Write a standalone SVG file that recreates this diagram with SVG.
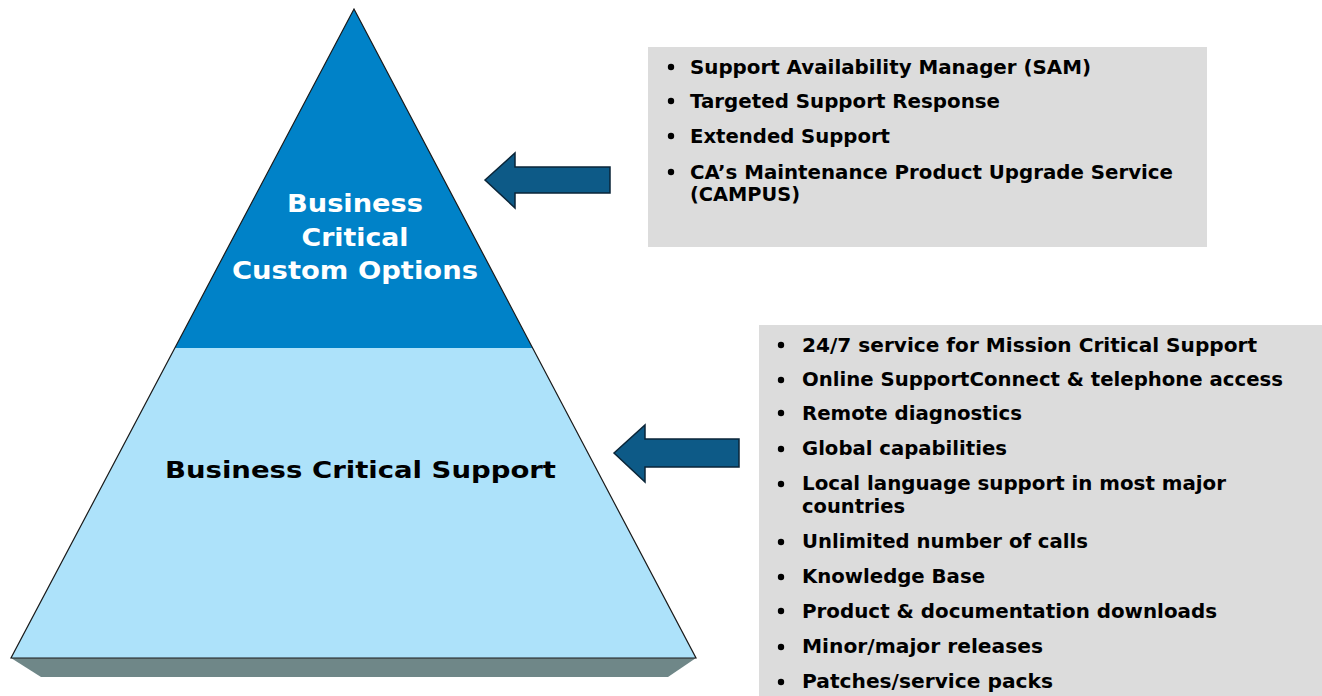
<svg xmlns="http://www.w3.org/2000/svg" width="1322" height="696" viewBox="0 0 1322 696">
<style>
.t{font-family:"DejaVu Sans","Verdana","Liberation Sans",sans-serif;font-weight:bold;}
.box{fill:#dcdcdc;}
.li{font-size:20px;fill:#000;}
.bul{fill:#000;}
.arrow{fill:#0d5a87;stroke:#0a2538;stroke-width:1.5;stroke-linejoin:miter;}
</style>
<rect width="1322" height="696" fill="#ffffff"/>
<g id="pyramid">
  <polygon points="11,658 696,658 668,677 41,677" fill="#6f8788"/>
  <polygon points="354,9 696,658 11,658" fill="#ade2fa"/>
  <polygon points="354,9 532.5,348 175,348" fill="#0082c8"/>
  <polygon points="354,9 696,658 11,658" fill="none" stroke="#1a1a1a" stroke-width="1.2" stroke-linejoin="miter"/>
</g>
<g id="top-tier">
  <text class="t" x="355" y="212" font-size="25" fill="#ffffff" text-anchor="middle" textLength="136" lengthAdjust="spacingAndGlyphs">Business</text>
  <text class="t" x="355" y="246" font-size="25" fill="#ffffff" text-anchor="middle" textLength="107" lengthAdjust="spacingAndGlyphs">Critical</text>
  <text class="t" x="355" y="279" font-size="25" fill="#ffffff" text-anchor="middle" textLength="246" lengthAdjust="spacingAndGlyphs">Custom Options</text>
</g>
<g id="base-tier">
  <text class="t" x="165" y="478" font-size="23" fill="#000000" textLength="391" lengthAdjust="spacingAndGlyphs">Business Critical Support</text>
</g>
<g id="connectors">
  <polygon class="arrow" points="485,180 515,153 515,167 610,167 610,193 515,193 515,208"/>
  <polygon class="arrow" points="614,453 645,425 645,439 739,439 739,467 645,467 645,482"/>
</g>
<g id="custom-options-list">
  <rect class="box" x="648" y="47" width="559" height="200"/>
  <g class="bul">
    <circle cx="671" cy="67" r="3.2"/>
    <circle cx="671" cy="101" r="3.2"/>
    <circle cx="671" cy="136" r="3.2"/>
    <circle cx="671" cy="172" r="3.2"/>
  </g>
  <text class="t li" x="690" y="74" textLength="401" lengthAdjust="spacingAndGlyphs">Support Availability Manager (SAM)</text>
  <text class="t li" x="690" y="108" textLength="310" lengthAdjust="spacingAndGlyphs">Targeted Support Response</text>
  <text class="t li" x="690" y="143" textLength="200" lengthAdjust="spacingAndGlyphs">Extended Support</text>
  <text class="t li" x="690" y="179" textLength="483" lengthAdjust="spacingAndGlyphs">CA’s Maintenance Product Upgrade Service</text>
  <text class="t li" x="690" y="201" textLength="110" lengthAdjust="spacingAndGlyphs">(CAMPUS)</text>
</g>
<g id="support-list">
  <rect class="box" x="759" y="325" width="563" height="371"/>
  <g class="bul">
    <circle cx="781" cy="345" r="3.2"/>
    <circle cx="781" cy="380" r="3.2"/>
    <circle cx="781" cy="413" r="3.2"/>
    <circle cx="781" cy="449" r="3.2"/>
    <circle cx="781" cy="484" r="3.2"/>
    <circle cx="781" cy="542" r="3.2"/>
    <circle cx="781" cy="577" r="3.2"/>
    <circle cx="781" cy="611" r="3.2"/>
    <circle cx="781" cy="647" r="3.2"/>
    <circle cx="781" cy="682" r="3.2"/>
  </g>
  <text class="t li" x="802" y="352" textLength="455" lengthAdjust="spacingAndGlyphs">24/7 service for Mission Critical Support</text>
  <text class="t li" x="802" y="386" textLength="481" lengthAdjust="spacingAndGlyphs">Online SupportConnect &amp; telephone access</text>
  <text class="t li" x="802" y="420" textLength="220" lengthAdjust="spacingAndGlyphs">Remote diagnostics</text>
  <text class="t li" x="802" y="455" textLength="205" lengthAdjust="spacingAndGlyphs">Global capabilities</text>
  <text class="t li" x="802" y="490" textLength="424" lengthAdjust="spacingAndGlyphs">Local language support in most major</text>
  <text class="t li" x="802" y="513" textLength="103" lengthAdjust="spacingAndGlyphs">countries</text>
  <text class="t li" x="802" y="548" textLength="286" lengthAdjust="spacingAndGlyphs">Unlimited number of calls</text>
  <text class="t li" x="802" y="583" textLength="183" lengthAdjust="spacingAndGlyphs">Knowledge Base</text>
  <text class="t li" x="802" y="618" textLength="415" lengthAdjust="spacingAndGlyphs">Product &amp; documentation downloads</text>
  <text class="t li" x="802" y="653" textLength="241" lengthAdjust="spacingAndGlyphs">Minor/major releases</text>
  <text class="t li" x="802" y="688" textLength="251" lengthAdjust="spacingAndGlyphs">Patches/service packs</text>
</g>
</svg>
